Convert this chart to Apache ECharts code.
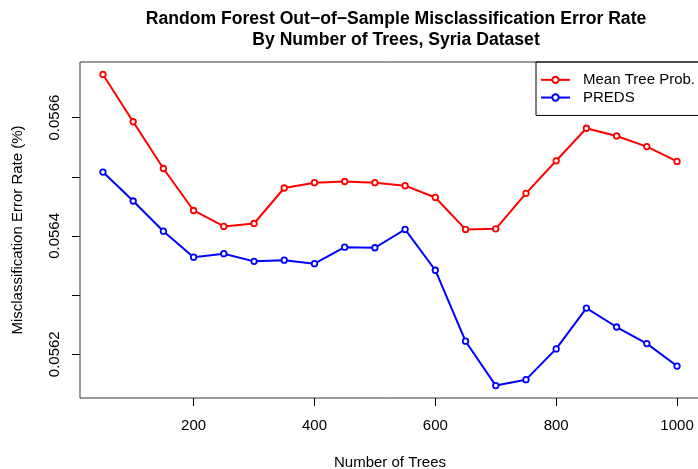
<!DOCTYPE html>
<html>
<head>
<meta charset="utf-8">
<script src="https://cdn.jsdelivr.net/npm/echarts@6/dist/echarts.min.js"></script>
<style>
  html, body { margin: 0; padding: 0; background: #fff; }
  #main { width: 698px; height: 469px; }
</style>
</head>
<body>
<div id="main"></div>
<script>
// number of trees
var trees = [50, 100, 150, 200, 250, 300, 350, 400, 450, 500,
             550, 600, 650, 700, 750, 800, 850, 900, 950, 1000];

// Mean Tree Prob.
var meanTreeProb = [0.056673, 0.056593, 0.056514, 0.056443, 0.056416, 0.056421, 0.056481, 0.056490, 0.056492, 0.056490,
                    0.056485, 0.056465, 0.056411, 0.056412, 0.056472, 0.056527, 0.056582, 0.056569, 0.056551, 0.056526];

// PREDS
var preds = [0.056508, 0.056459, 0.056408, 0.056364, 0.056370, 0.056357, 0.056359, 0.056353, 0.056381, 0.056380,
             0.056411, 0.056342, 0.056222, 0.056147, 0.056157, 0.056209, 0.056278, 0.056246, 0.056218, 0.056180];

var xTicks = [200, 400, 600, 800, 1000];
var yTicks = [0.0562, 0.0563, 0.0564, 0.0565, 0.0566];
var yLabels = [0.0562, 0.0564, 0.0566];

function pairs(xs, ys) {
    var out = [];
    for (var i = 0; i < xs.length; i++) {
        out.push([xs[i], ys[i]]);
    }
    return out;
}

var font = 'Liberation Sans, Arial, sans-serif';

var myChart = echarts.init(document.getElementById('main'), null, { renderer: 'canvas' });

var option = {
    animation: false,
    textStyle: { fontFamily: font },
    title: {
        text: 'Random Forest Out\u2212of\u2212Sample Misclassification Error Rate\nBy Number of Trees, Syria Dataset',
        left: 391,
        top: 4,
        textAlign: 'center',
        textStyle: {
            fontFamily: font,
            fontWeight: 'bold',
            fontSize: 17.6,
            lineHeight: 21,
            color: '#000'
        }
    },
    legend: {
        orient: 'vertical',
        left: 536,
        top: 62,
        padding: [9, 30, 9, 4],
        itemWidth: 29,
        itemHeight: 8,
        itemGap: 0,
        borderColor: '#000',
        borderWidth: 1,
        borderRadius: 0,
        textStyle: {
            fontFamily: font,
            fontSize: 15,
            lineHeight: 17.7,
            color: '#000',
            padding: [0, 0, 0, 8]
        },
        data: ['Mean Tree Prob.', 'PREDS']
    },
    grid: {
        left: 80,
        top: 62,
        bottom: 71,
        width: 620,
        outerBoundsMode: 'none',
        containLabel: false,
        show: true,
        borderColor: '#333',
        borderWidth: 1,
        backgroundColor: 'transparent'
    },
    xAxis: {
        type: 'value',
        min: 12,
        max: 1038,
        name: 'Number of Trees',
        nameLocation: 'middle',
        nameGap: 57,
        nameTextStyle: { fontFamily: font, fontSize: 15, color: '#000' },
        axisLine: { show: false },
        splitLine: { show: false },
        axisTick: {
            show: true,
            length: 8,
            customValues: xTicks,
            lineStyle: { color: '#000', width: 1 }
        },
        axisLabel: {
            customValues: xTicks,
            margin: 20,
            fontFamily: font,
            fontSize: 15,
            color: '#000',
            formatter: function (v) { return String(v); }
        }
    },
    yAxis: {
        type: 'value',
        min: 0.056126,
        max: 0.056694,
        scale: true,
        name: 'Misclassification Error Rate (%)',
        nameLocation: 'middle',
        nameGap: 55,
        nameRotate: 90,
        nameTextStyle: { fontFamily: font, fontSize: 15, color: '#000' },
        axisLine: { show: false },
        splitLine: { show: false },
        axisTick: {
            show: true,
            length: 8,
            customValues: yTicks,
            lineStyle: { color: '#000', width: 1 }
        },
        axisLabel: {
            customValues: yLabels,
            rotate: 90,
            margin: 18,
            fontFamily: font,
            fontSize: 15,
            color: '#000',
            formatter: function (v) { return v.toFixed(4); }
        }
    },
    series: [
        {
            name: 'Mean Tree Prob.',
            type: 'line',
            data: pairs(trees, meanTreeProb),
            symbol: 'circle',
            symbolSize: 5.5,
            color: '#ff0000',
            lineStyle: { color: '#ff0000', width: 2 },
            itemStyle: { color: '#fff', borderColor: '#ff0000', borderWidth: 1.8 }
        },
        {
            name: 'PREDS',
            type: 'line',
            data: pairs(trees, preds),
            symbol: 'circle',
            symbolSize: 5.5,
            color: '#0000ff',
            lineStyle: { color: '#0000ff', width: 2 },
            itemStyle: { color: '#fff', borderColor: '#0000ff', borderWidth: 1.8 }
        }
    ]
};

myChart.setOption(option);
</script>
</body>
</html>
